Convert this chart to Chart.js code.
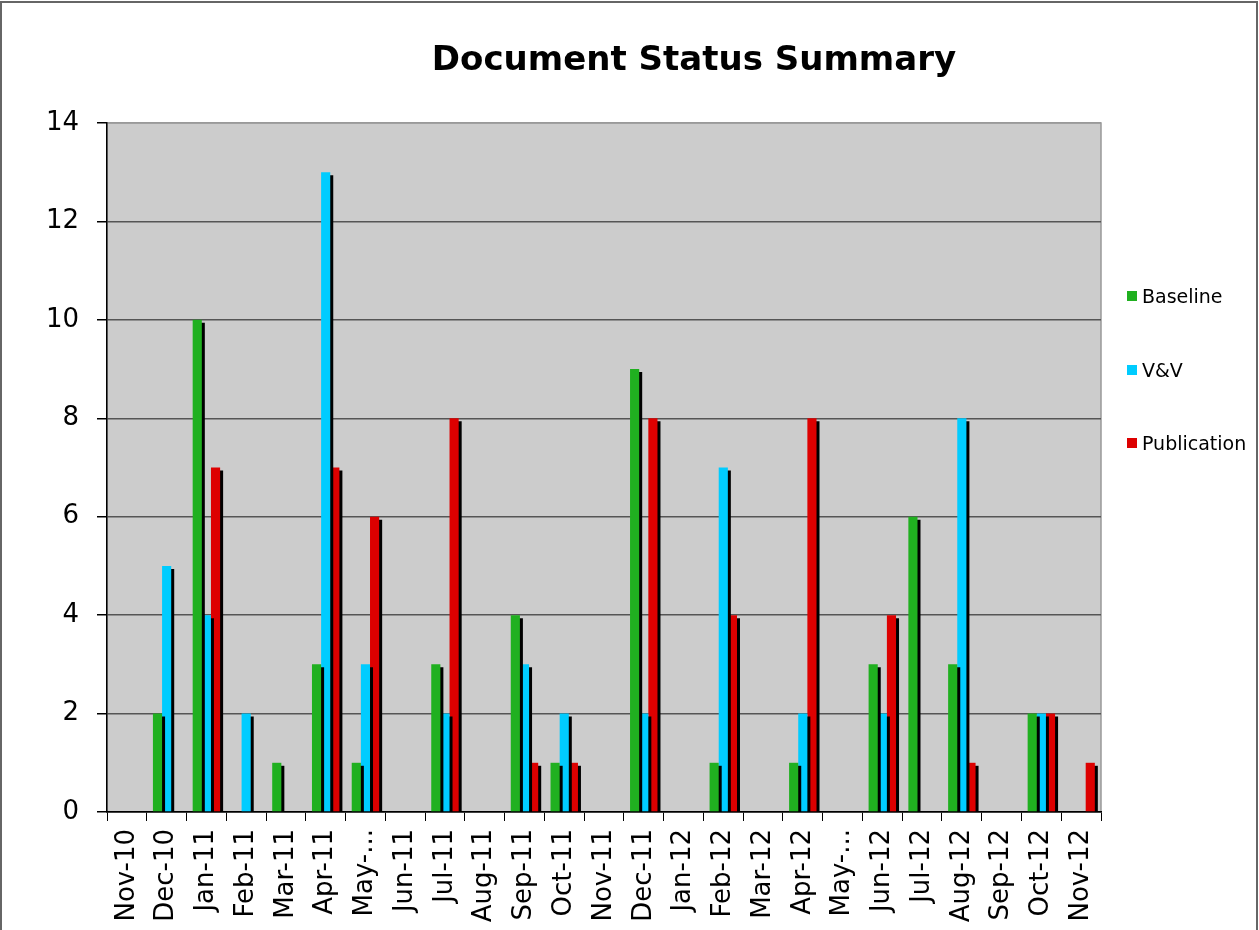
<!DOCTYPE html>
<html>
<head>
<meta charset="utf-8">
<script src="https://cdn.jsdelivr.net/npm/chart.js@4.4.1/dist/chart.umd.min.js"></script>
<style>
  html, body { margin: 0; padding: 0; background: #fff; overflow: hidden; }
  #wrap { position: relative; width: 1259px; height: 930px; }
  #frame { position: absolute; left: 0; top: 1px; width: 1254px; height: 1000px; border: 2px solid #666; }
  #title { position: absolute; left: 394px; top: 41px; width: 600px; text-align: center;
           font: bold 34px/34px "DejaVu Sans", Verdana, sans-serif; color: #000; }
  .item { position: absolute; left: 1127px; height: 20px; display: flex; align-items: center;
          font: 19px/20px "DejaVu Sans", Verdana, sans-serif; color: #000; }
  .item span.box { width: 10px; height: 10px; margin-right: 5px; }
  canvas { position: absolute; left: 0; top: 0; }
</style>
</head>
<body>
<div id="wrap">
  <canvas id="statusChart" width="1259" height="930"></canvas>
  <div id="frame"></div>
  <div id="title">Document Status Summary</div>
  <div id="legend"></div>
</div>
<script>
// Categories (months) along the x axis
var months = ['Nov-10', 'Dec-10', 'Jan-11', 'Feb-11', 'Mar-11', 'Apr-11', 'May-...', 'Jun-11',
  'Jul-11', 'Aug-11', 'Sep-11', 'Oct-11', 'Nov-11', 'Dec-11', 'Jan-12', 'Feb-12', 'Mar-12',
  'Apr-12', 'May-...', 'Jun-12', 'Jul-12', 'Aug-12', 'Sep-12', 'Oct-12', 'Nov-12'];

// Document counts per month
var baseline    = [0, 2, 10, 0, 1, 3, 1, 0, 3, 0, 4, 1, 0, 9, 0, 1, 0, 1, 0, 3, 6, 3, 0, 2, 0];
var vandv       = [0, 5, 4, 2, 0, 13, 3, 0, 2, 0, 3, 2, 0, 2, 0, 7, 0, 2, 0, 2, 0, 8, 0, 2, 0];
var publication = [0, 0, 7, 0, 0, 7, 6, 0, 8, 0, 1, 1, 0, 8, 0, 4, 0, 8, 0, 4, 0, 1, 0, 2, 1];

// y axis ticks
var yTicks = [0, 2, 4, 6, 8, 10, 12, 14];

var seriesNames = ['Baseline', 'V&V', 'Publication'];
var seriesColors = ['#20b020', '#00ccff', '#dd0000'];

var ctx = document.getElementById('statusChart').getContext('2d');

// Gray plot background plus a light border round the plot area
var plotBackground = {
  id: 'plotBackground',
  beforeDraw: function (chart) {
    var a = chart.chartArea;
    var c = chart.ctx;
    c.save();
    c.fillStyle = '#cccccc';
    c.fillRect(a.left, a.top, a.right - a.left, a.bottom - a.top);
    c.strokeStyle = '#999999';
    c.lineWidth = 1.5;
    c.strokeRect(a.left, a.top, a.right - a.left, a.bottom - a.top);
    c.restore();
  }
};

// Excel style hard black shadow behind each bar
var barShadow = {
  id: 'barShadow',
  beforeDatasetsDraw: function (chart) {
    var c = chart.ctx;
    c.save();
    c.shadowColor = '#000';
    c.shadowBlur = 0;
    c.shadowOffsetX = 3;
    c.shadowOffsetY = 3;
  },
  afterDatasetsDraw: function (chart) {
    chart.ctx.restore();
  }
};

var datasets = [baseline, vandv, publication].map(function (values, i) {
  return {
    label: seriesNames[i],
    data: values,
    backgroundColor: seriesColors[i],
    borderWidth: 0,
    categoryPercentage: 0.69,
    barPercentage: 1.0
  };
});

var chart = new Chart(ctx, {
  type: 'bar',
  data: { labels: months, datasets: datasets },
  options: {
    responsive: false,
    animation: false,
    layout: { padding: { top: 123, left: 45, right: 158, bottom: 0 } },
    plugins: {
      legend: { display: false },
      title: { display: false },
      tooltip: { enabled: false }
    },
    scales: {
      x: {
        afterFit: function (scale) { scale.height = 118; },
        grid: { drawOnChartArea: false, drawTicks: true, tickLength: 9, color: '#000', offset: true },
        border: { color: '#000', width: 1.5 },
        ticks: {
          color: '#000',
          font: { family: 'DejaVu Sans', size: 26 },
          minRotation: 90,
          maxRotation: 90,
          autoSkip: false,
          padding: 8
        }
      },
      y: {
        min: 0,
        max: 14,
        afterFit: function (scale) { scale.width = 62; },
        afterBuildTicks: function (scale) {
          scale.ticks = yTicks.map(function (v) { return { value: v }; });
        },
        grid: {
          color: function (c) { return c.tick && c.tick.value === 14 ? '#999999' : '#555555'; },
          lineWidth: 1.5,
          tickColor: '#000',
          tickLength: 10
        },
        border: { color: '#000', width: 1.5 },
        ticks: {
          color: '#000',
          font: { family: 'DejaVu Sans', size: 26 },
          padding: 18
        }
      }
    }
  },
  plugins: [plotBackground, barShadow]
});

// Legend at the right, built from the same series
var legend = document.getElementById('legend');
var legendTops = [286, 360, 433];
seriesNames.forEach(function (name, i) {
  var item = document.createElement('div');
  item.className = 'item';
  item.style.top = legendTops[i] + 'px';
  var box = document.createElement('span');
  box.className = 'box';
  box.style.background = seriesColors[i];
  item.appendChild(box);
  item.appendChild(document.createTextNode(name));
  legend.appendChild(item);
});
</script>
</body>
</html>
